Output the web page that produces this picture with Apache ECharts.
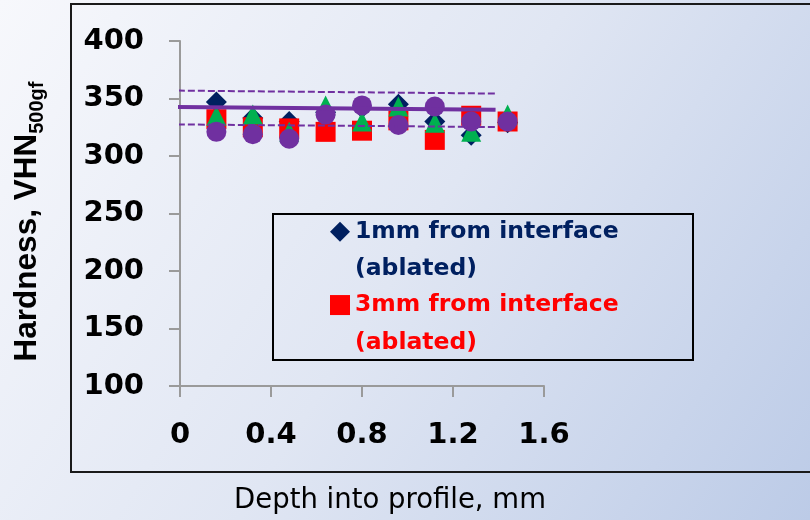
<!DOCTYPE html>
<html>
<head>
<meta charset="utf-8">
<script src="https://cdn.jsdelivr.net/npm/echarts@6/dist/echarts.min.js"></script>
<style>
  html, body { margin: 0; padding: 0; }
  #chart { width: 810px; height: 520px; }
</style>
</head>
<body>
<div id="chart"></div>
<script>
// Measurement depths (mm) and Vickers hardness readings
const depth = [0.16, 0.32, 0.48, 0.64, 0.80, 0.96, 1.12, 1.28, 1.44];
const hard1mm = [347, 333, 330, 338, 342, 345, 330, 318, 329];
const hard3mm = [332, 325, 324, 321, 322, 331, 314, 335, 330];
const hardSet3 = [335, 336, 321, 344, 330, 343, 329, 321, 336];
const hardSet4 = [321, 319, 315, 336, 344, 327, 343, 330, 330];

// Linear fit with its upper / lower band, given at the two ends
const fitX = [-0.405, 1.387];
const fitY = [343.4, 340.3];
const bandUpper = [357.6, 354.3];
const bandLower = [328.1, 325.2];

const xTicks = [0, 0.4, 0.8, 1.2, 1.6];
const yTicks = [100, 150, 200, 250, 300, 350, 400];

const seriesNames = ['1mm from interface (ablated)', '3mm from interface (ablated)', 'Set 3', 'Set 4'];

const FONT = "'DejaVu Sans', sans-serif";
const FONT_Y = "'Liberation Sans', Arial, sans-serif";
const pairs = (xs, ys) => xs.map((x, i) => [x, ys[i]]);

const chart = echarts.init(document.getElementById('chart'), null, { renderer: 'canvas' });

const lineSeries = (data, width, type) => ({
  type: 'line',
  data: pairs(fitX, data),
  symbol: 'none',
  clip: false,
  silent: true,
  z: 5,
  lineStyle: { color: '#7030a0', width: width, type: type, opacity: 1 }
});

const markerSeries = (name, data, symbol, size, color) => ({
  name: name,
  type: 'scatter',
  data: pairs(depth, data),
  symbol: symbol,
  symbolSize: size,
  z: 2,
  itemStyle: { color: color, opacity: 1 }
});

chart.setOption({
  animation: false,
  backgroundColor: new echarts.graphic.LinearGradient(0, 0, 1, 1, [
    { offset: 0, color: '#f7f8fc' },
    { offset: 0.5, color: '#e0e6f3' },
    { offset: 1, color: '#bccbe7' }
  ]),
  grid: { left: 180, top: 41, width: 364, height: 345 },
  graphic: [
    {
      type: 'rect',
      shape: { x: 71, y: 4, width: 760, height: 468 },
      style: { fill: 'none', stroke: '#1a1a1a', lineWidth: 2 },
      z: 0
    },
    {
      type: 'rect',
      shape: { x: 273, y: 214, width: 420, height: 146 },
      style: { fill: 'none', stroke: '#000000', lineWidth: 2 },
      z: 1
    }
  ],
  legend: {
    orient: 'vertical',
    left: 330,
    top: 175.5,
    padding: 0,
    itemGap: -39.2,
    itemWidth: 20,
    itemHeight: 20,
    selectedMode: false,
    // leading blank line keeps the first text line level with the icon
    formatter: name => '\n' + name.replace(' (', '\n('),
    textStyle: {
      fontFamily: FONT,
      fontWeight: 'bold',
      fontSize: 23.5,
      lineHeight: 37.5
    },
    data: [
      { name: seriesNames[0], textStyle: { color: '#002060' } },
      { name: seriesNames[1], textStyle: { color: '#ff0000' } }
    ]
  },
  xAxis: {
    type: 'value',
    min: xTicks[0],
    max: xTicks[xTicks.length - 1],
    interval: 0.4,
    splitLine: { show: false },
    axisLine: { lineStyle: { color: '#9a9a9a', width: 2 } },
    axisTick: { show: true, length: 11, lineStyle: { color: '#9a9a9a', width: 2 } },
    axisLabel: {
      margin: 35,
      color: '#000',
      fontFamily: FONT,
      fontWeight: 'bold',
      fontSize: 29,
      formatter: v => String(Math.round(v * 10) / 10)
    },
    name: 'Depth into profile, mm',
    nameLocation: 'middle',
    nameGap: 101,
    nameTextStyle: { color: '#000', fontFamily: FONT, fontSize: 27.5, padding: [0, 0, 0, 56] }
  },
  yAxis: {
    type: 'value',
    min: yTicks[0],
    max: yTicks[yTicks.length - 1],
    interval: 50,
    splitLine: { show: false },
    axisLine: { show: true, lineStyle: { color: '#9a9a9a', width: 2 } },
    axisTick: { show: true, length: 11, lineStyle: { color: '#9a9a9a', width: 2 } },
    axisLabel: {
      margin: 36,
      color: '#000',
      fontFamily: FONT,
      fontWeight: 'bold',
      fontSize: 29
    },
    name: '{m|Hardness, VHN}{s|500gf}',
    nameLocation: 'middle',
    nameGap: 133,
    nameTextStyle: {
      padding: [0, 16, 0, 0],
      rich: {
        m: { fontFamily: FONT_Y, fontWeight: 'bold', fontSize: 31.5, color: '#000', lineHeight: 40, verticalAlign: 'middle' },
        s: { fontFamily: FONT_Y, fontWeight: 'bold', fontSize: 20, color: '#000', lineHeight: 20, verticalAlign: 'bottom' }
      }
    }
  },
  series: [
    markerSeries(seriesNames[0], hard1mm, 'diamond', [21, 21], '#002060'),
    markerSeries(seriesNames[1], hard3mm, 'rect', 20, '#ff0000'),
    markerSeries(seriesNames[2], hardSet3, 'triangle', [20, 20], '#00b050'),
    markerSeries(seriesNames[3], hardSet4, 'circle', 20, '#7030a0'),
    lineSeries(fitY, 4, 'solid'),
    lineSeries(bandUpper, 2, [7, 3]),
    lineSeries(bandLower, 2, [7, 3])
  ]
});
</script>
</body>
</html>
